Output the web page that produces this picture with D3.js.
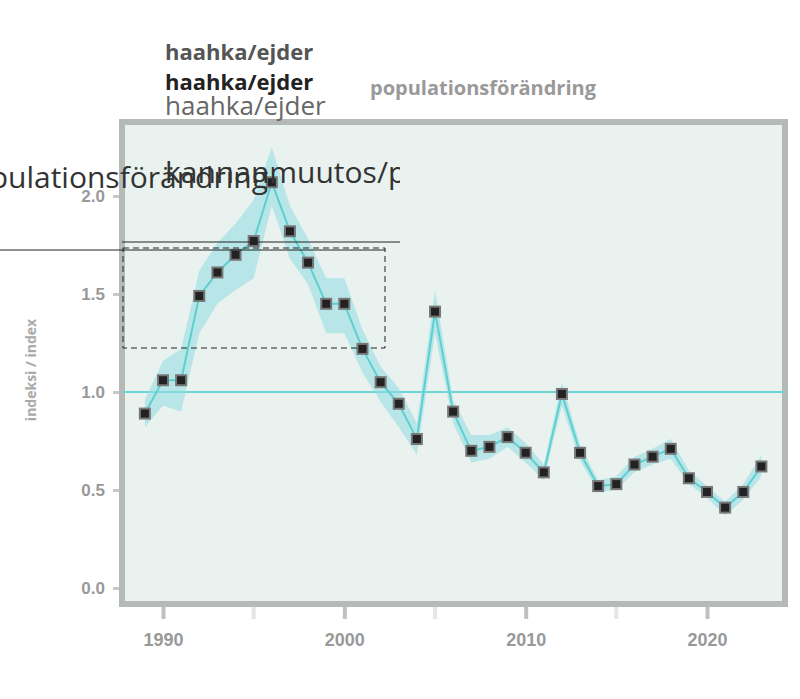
<!DOCTYPE html>
<html><head><meta charset="utf-8">
<script src="https://cdn.jsdelivr.net/npm/d3@7.9.0/dist/d3.min.js"></script>
<style>body{margin:0;background:#fff;font-family:"Open Sans",sans-serif}</style>
</head><body><svg id="chart" width="800" height="699"></svg>
<script>
const years = d3.range(1989, 2024);
const values = [0.89,1.06,1.06,1.49,1.61,1.70,1.77,2.07,1.82,1.66,1.45,1.45,1.22,1.05,0.94,0.76,1.41,0.90,0.70,0.72,0.77,0.69,0.59,0.99,0.69,0.52,0.53,0.63,0.67,0.71,0.56,0.49,0.41,0.49,0.62];
const lower = [0.82,0.93,0.90,1.30,1.45,1.52,1.58,1.95,1.68,1.55,1.30,1.30,1.10,0.95,0.82,0.68,1.30,0.84,0.64,0.66,0.72,0.64,0.55,0.93,0.65,0.49,0.50,0.59,0.63,0.66,0.53,0.46,0.37,0.45,0.57];
const upper = [0.96,1.16,1.22,1.62,1.76,1.86,1.98,2.25,1.95,1.78,1.58,1.58,1.32,1.13,1.02,0.84,1.52,0.96,0.78,0.78,0.82,0.74,0.63,1.05,0.73,0.55,0.57,0.67,0.71,0.76,0.60,0.52,0.44,0.53,0.68];
const yTicks = [0, 0.5, 1, 1.5, 2];
const xMajor = [1990, 2000, 2010, 2020];
const xMinor = [1995, 2005, 2015];

const svg = d3.select('#chart');
const panel = {left: 122, right: 785, top: 122, bottom: 604};
const x = d3.scaleLinear().domain([1990, 2020]).range([163, 707]);
const y = d3.scaleLinear().domain([0, 2]).range([588, 196]);

// panel
svg.append('rect').attr('x', panel.left).attr('y', panel.top)
  .attr('width', panel.right - panel.left).attr('height', panel.bottom - panel.top)
  .attr('fill', '#e9f2ee').attr('stroke', '#b5bab7').attr('stroke-width', 6);

// axes
const ya = svg.append('g').attr('transform', `translate(${panel.left - 3},0)`)
  .call(d3.axisLeft(y).tickValues(yTicks).tickFormat(d3.format('.1f')).tickSize(6).tickPadding(8));
ya.select('.domain').remove();
ya.selectAll('line').attr('stroke', '#c8c8c8').attr('stroke-width', 3);
ya.selectAll('text').attr('fill', '#999').attr('font-size', 17).attr('font-weight', 'bold');

const xa = svg.append('g').attr('transform', `translate(0,${panel.bottom + 3})`)
  .call(d3.axisBottom(x).tickValues(xMajor).tickFormat(d3.format('d')).tickSize(12).tickPadding(14));
xa.select('.domain').remove();
xa.selectAll('line').attr('stroke', '#c0c0c0').attr('stroke-width', 4);
xa.selectAll('text').attr('fill', '#999').attr('font-size', 18).attr('font-weight', 'bold');
svg.append('g').selectAll('line').data(xMinor).join('line')
  .attr('x1', d => x(d)).attr('x2', d => x(d))
  .attr('y1', panel.bottom + 3).attr('y2', panel.bottom + 15)
  .attr('stroke', '#e6e6e6').attr('stroke-width', 4);

svg.append('text').attr('transform', 'translate(36,370) rotate(-90)')
  .attr('text-anchor', 'middle').attr('fill', '#aaa').attr('font-size', 14).attr('font-weight', 'bold')
  .text('indeksi / index');

// reference line
svg.append('line').attr('x1', panel.left).attr('x2', panel.right)
  .attr('y1', y(1)).attr('y2', y(1)).attr('stroke', '#6fd6d6').attr('stroke-width', 2);

// band, line, points
const data = years.map((yr, i) => ({yr, v: values[i], lo: lower[i], hi: upper[i]}));
svg.append('path').datum(data)
  .attr('d', d3.area().x(d => x(d.yr)).y0(d => y(d.lo)).y1(d => y(d.hi)))
  .attr('fill', '#8fdde3').attr('fill-opacity', 0.55);
svg.append('path').datum(data)
  .attr('d', d3.line().x(d => x(d.yr)).y(d => y(d.v)))
  .attr('fill', 'none').attr('stroke', '#5ccfd0').attr('stroke-width', 2);
svg.append('g').selectAll('rect').data(data).join('rect')
  .attr('x', d => x(d.yr) - 5).attr('y', d => y(d.v) - 5)
  .attr('width', 10).attr('height', 10).attr('fill', '#222').attr('stroke', '#777').attr('stroke-width', 2);

// annotation
svg.append('rect').attr('x', 123).attr('y', 248).attr('width', 262).attr('height', 100)
  .attr('fill', 'none').attr('stroke', '#222').attr('stroke-dasharray', '6,4');
svg.append('line').attr('x1', 0).attr('x2', 385).attr('y1', 250).attr('y2', 250).attr('stroke', '#222');
svg.append('line').attr('x1', 122).attr('x2', 400).attr('y1', 242).attr('y2', 242).attr('stroke', '#222');

// titles
svg.append('text').attr('x', 165).attr('y', 60).attr('font-size', 22).attr('font-weight', 'bold')
  .attr('fill', '#555').text('haahka/ejder');
svg.append('text').attr('x', 165).attr('y', 90).attr('font-size', 22).attr('font-weight', 'bold')
  .attr('fill', '#222').text('haahka/ejder');
svg.append('text').attr('x', 370).attr('y', 95).attr('font-size', 20).attr('font-weight', 'bold')
  .attr('fill', '#999').text('populationsförändring');
svg.append('text').attr('x', 165).attr('y', 115).attr('font-size', 26)
  .attr('fill', '#666').text('haahka/ejder');
svg.append('clipPath').attr('id', 'c').append('rect').attr('x', 0).attr('y', 130).attr('width', 400).attr('height', 100);
svg.append('text').attr('x', 165).attr('y', 183).attr('font-size', 30).attr('fill', '#333')
  .attr('clip-path', 'url(#c)').text('kannanmuutos/populationsförändring');
svg.append('text').attr('x', 268).attr('y', 188).attr('font-size', 30).attr('fill', '#333')
  .attr('text-anchor', 'end').text('populationsförändring');
</script></body></html>
